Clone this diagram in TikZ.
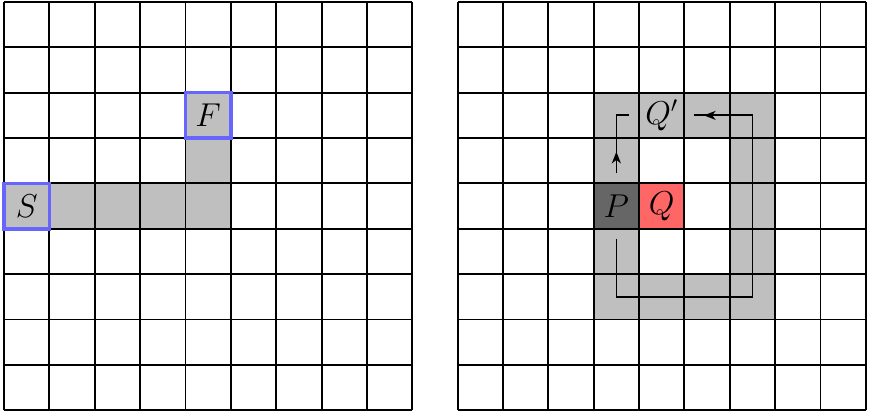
\documentclass[tikz,border=0pt]{standalone}
\usepackage{amsmath}
\usepackage{amssymb}
\usetikzlibrary{arrows.meta,decorations.markings}
\tikzstyle{cell} = [minimum size=1cm, inner sep=0pt, outer sep=0pt, font=\huge]
\tikzstyle{gridline} = [black, line width=1.2pt]
\tikzstyle{endcell} = [draw=blue!60, line width=2.2pt]
\tikzstyle{route} = [black, line width=1.1pt]
\tikzstyle{tip near end} = [decoration={markings, mark=at position -0.21cm with {\arrow{Stealth[length=2.6mm,width=2mm,inset=0.8mm]}}}, postaction={decorate}]
\tikzstyle{tip near start} = [decoration={markings, mark=at position 0.48cm with {\arrow{Stealth[length=2.6mm,width=2mm,inset=0.8mm]}}}, postaction={decorate}]

\begin{document}
\begin{tikzpicture}
            \useasboundingbox (-0.09,-0.063) rectangle (19.07,9.044);
            % left board: path from S to F
            \fill [gray!50] (0,4) rectangle (5,5);
            \fill [gray!50] (4,5) rectangle (5,7);
            \draw [gridline] (0,0) grid (9,9);
            \node [cell] (S) at (0.5,4.5) {$S$};
            \node [cell] (F) at (4.5,6.5) {$F$};
            \draw [endcell] (S.south west) rectangle (S.north east);
            \draw [endcell] (F.south west) rectangle (F.north east);
            % right board: loop round Q
            \begin{scope}[xshift=10cm]
            \fill [gray!50] (3,2) rectangle (7,7);
            \fill [white] (4,3) rectangle (6,6);
            \node [cell, fill=black!60] (P) at (3.5,4.5) {$P$};
            \node [cell, fill=red!60] (Q) at (4.5,4.5) {$Q$};
            \node [cell] (Qp) at (4.5,6.5) {$Q'$};
            \draw [gridline] (0,0) grid (9,9);
            \draw [route, tip near end] ([yshift=-2.2mm]P.south) |- (6.5,2.5) |- ([xshift=2.2mm]Qp.east);
            \draw [route, tip near start] ([yshift=2.2mm]P.north) |- ([xshift=-2.2mm]Qp.west);
            \end{scope}
\end{tikzpicture}
\end{document}
